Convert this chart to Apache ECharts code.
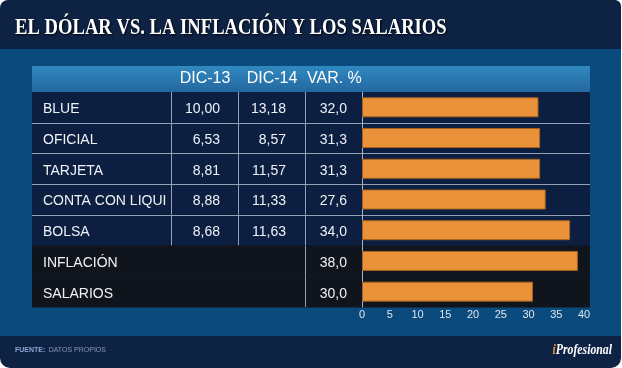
<!DOCTYPE html>
<html>
<head>
<meta charset="utf-8">
<script src="https://cdn.jsdelivr.net/npm/echarts@6/dist/echarts.min.js"></script>
<style>
html,body{margin:0;padding:0;background:#ffffff;}
#chart{width:622px;height:368px;}
</style>
</head>
<body>
<div id="chart"></div>
<script>
// ---- data ----
const titleText = 'EL DÓLAR VS. LA INFLACIÓN Y LOS SALARIOS';
const headers = ['DIC-13', 'DIC-14', 'VAR. %'];
const categories = ['BLUE', 'OFICIAL', 'TARJETA', 'CONTA CON LIQUI', 'BOLSA', 'INFLACIÓN', 'SALARIOS'];
const dic13 = [10.00, 6.53, 8.81, 8.88, 8.68, null, null];
const dic14 = [13.18, 8.57, 11.57, 11.33, 11.63, null, null];
const varPct = [32.0, 31.3, 31.3, 27.6, 34.0, 38.0, 30.0];
// bar lengths as drawn in the picture (they differ slightly from the printed %)
const barLength = [31.8, 32.1, 32.1, 33.1, 37.5, 38.9, 30.8];
const axisMin = 0, axisMax = 40, axisStep = 5;
const sourceLabel = 'FUENTE:';
const sourceText = 'DATOS PROPIOS';
const brandI = 'i';
const brandRest = 'Profesional';

// ---- styles / layout ----
const SANS = '"Liberation Sans", Arial, sans-serif';
const SERIF = '"Liberation Serif", "Times New Roman", serif';
const NAVY = '#0c1f41';
const BLACKROW = '#10141c';
const SEP = '#95a2b5';
const fmt = (v, d) => v == null ? '' : v.toFixed(d).replace('.', ',');

const chart = echarts.init(document.getElementById('chart'), null, {renderer: 'canvas'});

const option = {
  backgroundColor: 'transparent',
  animation: false,
  graphic: [
    {type: 'rect', z: 0, shape: {x: 0, y: 0, width: 621, height: 368, r: [8, 6, 10, 10]}, style: {fill: '#0e2244'}},
    {type: 'rect', z: 0, shape: {x: 0, y: 49, width: 621, height: 287}, style: {fill: '#0b4a7c'}},
    {type: 'rect', z: 0, shape: {x: 32, y: 66, width: 558, height: 26},
      style: {fill: new echarts.graphic.LinearGradient(0, 0, 0, 1, [{offset: 0, color: '#3089c0'}, {offset: 1, color: '#2467a0'}])}},
    {type: 'text', z: 1, x: 15, y: 28, scaleX: 0.81,
      style: {text: titleText, fill: '#ffffff', font: 'bold 23px ' + SERIF, verticalAlign: 'middle',
        textShadowColor: 'rgba(0,0,0,0.9)', textShadowBlur: 2, textShadowOffsetX: 1, textShadowOffsetY: 1}},
    {type: 'text', z: 1, x: 205, y: 79, style: {text: headers[0], fill: '#ffffff', font: '16px ' + SANS, align: 'center', verticalAlign: 'middle'}},
    {type: 'text', z: 1, x: 272, y: 79, style: {text: headers[1], fill: '#ffffff', font: '16px ' + SANS, align: 'center', verticalAlign: 'middle'}},
    {type: 'text', z: 1, x: 307, y: 79, style: {text: headers[2], fill: '#ffffff', font: '16px ' + SANS, align: 'left', verticalAlign: 'middle'}},
    {type: 'text', z: 1, x: 15, y: 350, style: {
      text: '{b|' + sourceLabel + '} {n|' + sourceText + '}', verticalAlign: 'middle', fill: '#8799b6',
      rich: {b: {fontFamily: SANS, fontSize: 7, fontWeight: 'bold', fill: '#8aa6d2'},
             n: {fontFamily: SANS, fontSize: 7, fill: '#8799b6'}}}},
    {type: 'text', z: 1, x: 612, y: 350, scaleX: 0.84,
      style: {
      text: '{o|' + brandI + '}{w|' + brandRest + '}', align: 'right', verticalAlign: 'middle', fill: '#ffffff',
      rich: {o: {fontFamily: SERIF, fontSize: 14, fontStyle: 'italic', fontWeight: 'bold', fill: '#e9923a'},
             w: {fontFamily: SERIF, fontSize: 14, fontStyle: 'italic', fontWeight: 'bold', fill: '#ffffff'}}}}
  ],
  grid: [
    {left: 32, right: 32, top: 92, height: 215},
    {left: 362, width: 222, top: 92, height: 215}
  ],
  xAxis: [
    {gridIndex: 0, type: 'value', min: 0, max: 1, show: false},
    {gridIndex: 1, type: 'value', min: axisMin, max: axisMax, interval: axisStep, z: 4,
      axisLine: {show: false}, axisTick: {show: false}, splitLine: {show: false},
      axisLabel: {color: '#dde5ef', fontSize: 11, fontFamily: SANS, margin: 2}}
  ],
  yAxis: [
    {gridIndex: 0, type: 'category', data: categories, inverse: true, show: false},
    {gridIndex: 1, type: 'category', data: categories, inverse: true, z: 4,
      axisLine: {show: true, lineStyle: {color: '#a9b3c1', width: 1}},
      axisTick: {show: false}, axisLabel: {show: false}, splitLine: {show: false}}
  ],
  series: [
    {
      type: 'custom', xAxisIndex: 0, yAxisIndex: 0, z: 1,
      encode: {x: 0, y: 1},
      data: categories.map((c, i) => [0, i]),
      renderItem: function (params, api) {
        const i = api.value(1);
        const c = api.coord([0, i]);
        const sz = api.size([1, 1]);
        const x0 = params.coordSys.x, w = params.coordSys.width;
        const h = sz[1];
        const y0 = c[1] - h / 2, y1 = c[1] + h / 2;
        const ty = c[1] + 2;
        const children = [
          {type: 'rect', shape: {x: x0, y: y0, width: w, height: h + 0.5}, style: {fill: i < 5 ? NAVY : BLACKROW}}
        ];
        if (i >= 1 && i <= 4) {
          const ly = Math.round(y0) + 0.5;
          children.push({type: 'line', shape: {x1: x0, y1: ly, x2: x0 + w, y2: ly}, style: {stroke: SEP, lineWidth: 1}});
        }
        if (i < 5) {
          children.push({type: 'line', shape: {x1: 171.5, y1: y0, x2: 171.5, y2: y1}, style: {stroke: SEP, lineWidth: 1}});
          children.push({type: 'line', shape: {x1: 238.5, y1: y0, x2: 238.5, y2: y1}, style: {stroke: SEP, lineWidth: 1}});
        }
        children.push({type: 'line', shape: {x1: 305.5, y1: y0, x2: 305.5, y2: y1}, style: {stroke: SEP, lineWidth: 1}});
        const tStyle = (text, x, align) => ({type: 'text', style: {text: text, x: x, y: ty, fill: '#eef2f7',
          font: '14px ' + SANS, align: align, verticalAlign: 'middle'}});
        children.push(tStyle(categories[i], 43, 'left'));
        children.push(tStyle(fmt(dic13[i], 2), 220, 'right'));
        children.push(tStyle(fmt(dic14[i], 2), 286, 'right'));
        children.push(tStyle(fmt(varPct[i], 1), 347, 'right'));
        return {type: 'group', children: children};
      }
    },
    {
      type: 'bar', xAxisIndex: 1, yAxisIndex: 1, z: 5,
      data: barLength, barWidth: 20,
      itemStyle: {color: '#e9923a', borderColor: '#a8621f', borderWidth: 1}
    }
  ]
};
chart.setOption(option);
</script>
</body>
</html>
